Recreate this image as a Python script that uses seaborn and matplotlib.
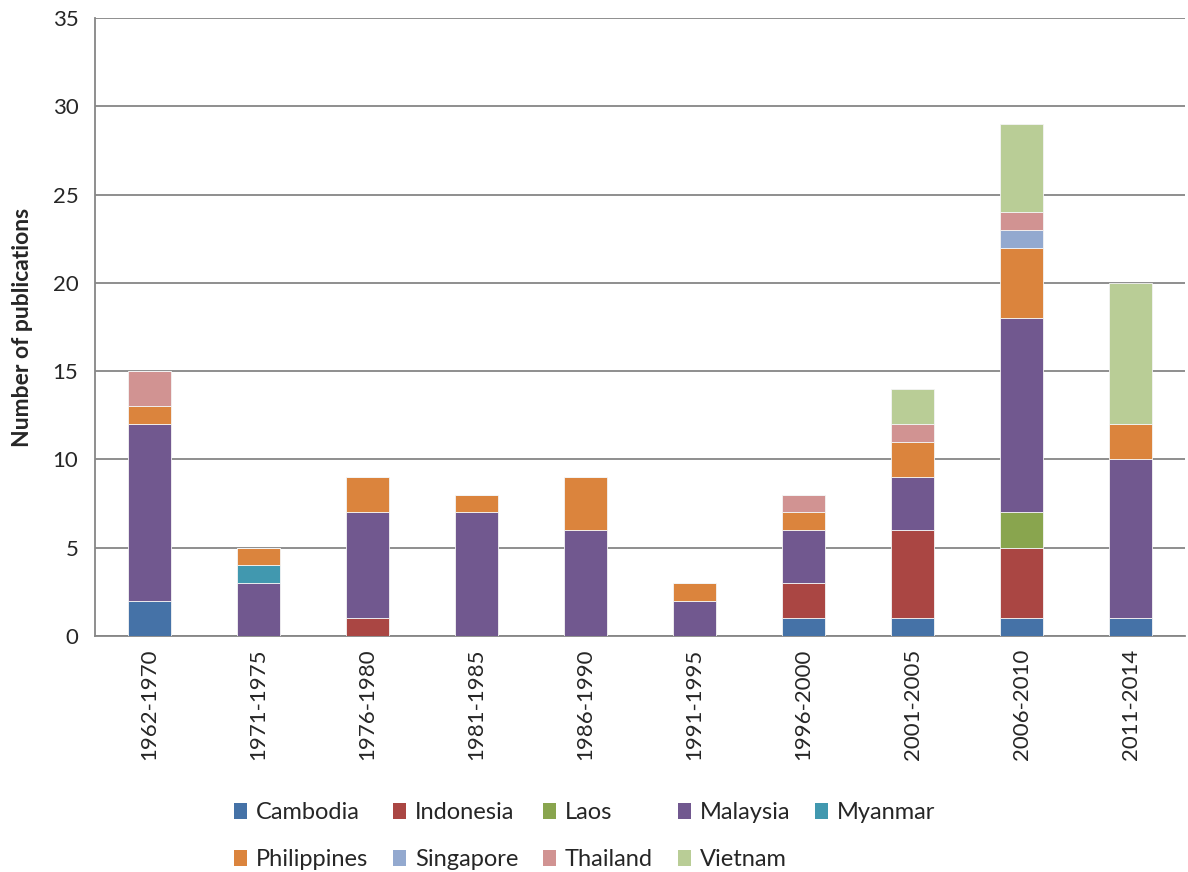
import pandas as pd
import numpy as np
import seaborn as sns
import matplotlib.pyplot as plt
from matplotlib.patches import Patch

periods = ["1962-1970", "1971-1975", "1976-1980", "1981-1985", "1986-1990",
           "1991-1995", "1996-2000", "2001-2005", "2006-2010", "2011-2014"]

countries = ["Cambodia", "Indonesia", "Laos", "Malaysia", "Myanmar",
             "Philippines", "Singapore", "Thailand", "Vietnam"]

cambodia    = [2, 0, 0, 0, 0, 0, 1, 1, 1, 1]
indonesia   = [0, 0, 1, 0, 0, 0, 2, 5, 4, 0]
laos        = [0, 0, 0, 0, 0, 0, 0, 0, 2, 0]
malaysia    = [10, 3, 6, 7, 6, 2, 3, 3, 11, 9]
myanmar     = [0, 1, 0, 0, 0, 0, 0, 0, 0, 0]
philippines = [1, 1, 2, 1, 3, 1, 1, 2, 4, 2]
singapore   = [0, 0, 0, 0, 0, 0, 0, 0, 1, 0]
thailand    = [2, 0, 0, 0, 0, 0, 1, 1, 1, 0]
vietnam     = [0, 0, 0, 0, 0, 0, 0, 2, 5, 8]

colors = ["#4572A7", "#AA4643", "#89A54E", "#71588F", "#4198AF",
          "#DB843D", "#93A9CF", "#D19392", "#B9CD96"]

df = pd.DataFrame({"Cambodia": cambodia, "Indonesia": indonesia, "Laos": laos,
                   "Malaysia": malaysia, "Myanmar": myanmar,
                   "Philippines": philippines, "Singapore": singapore,
                   "Thailand": thailand, "Vietnam": vietnam}, index=periods)

sns.set_style("white")
plt.rcParams['font.family'] = ['Lato', 'DejaVu Sans']

fig = plt.figure(figsize=(11.88, 8.72), dpi=100)
ax = fig.add_axes([0.080, 0.2706, 0.9175, 0.7088])

# stacked bars, one layer per country
bottom = np.zeros(len(periods))
for country, col in zip(countries, colors):
    vals = df[country].values
    sns.barplot(x=periods, y=vals, bottom=bottom, color=col, saturation=1,
                width=0.4, edgecolor="#f4f4f4", linewidth=0.6, ax=ax, zorder=3)
    bottom = bottom + vals

ax.set_ylim(0, 35)
ax.set_xlim(-0.5, len(periods) - 0.5)
ax.set_yticks(range(0, 36, 5))
ax.yaxis.grid(True, color="#868686", linewidth=1.3, zorder=0)
ax.set_axisbelow(True)

for s in ["top", "right"]:
    ax.spines[s].set_visible(False)
for s in ["left", "bottom"]:
    ax.spines[s].set_color("#868686")
    ax.spines[s].set_linewidth(1.3)

ax.set_xticks(range(len(periods)))
ax.set_xticklabels(periods, rotation=90, fontsize=16)
ax.set_xticks(np.arange(-0.5, len(periods), 1), minor=True)
ax.tick_params(axis="x", which="major", length=0, pad=9)
ax.tick_params(axis="x", which="minor", length=6, width=1.3, color="#868686",
               direction="out")
ax.tick_params(axis="y", length=6, width=1.3, color="#868686", direction="out",
               labelsize=16, pad=6)

ax.set_xlabel("")
ax.set_ylabel("Number of publications", fontsize=16.5, fontweight="bold",
              labelpad=14)

# legend, row-major order via column-major fill
order = [0, 5, 1, 6, 2, 7, 3, 8, 4]
handles = [Patch(facecolor=colors[i], edgecolor="none") for i in order]
labels = [countries[i] for i in order]
fig.legend(handles, labels, ncol=5, loc="upper left",
           bbox_to_anchor=(0.197, 0.080), frameon=False, fontsize=17,
           handlelength=0.55, handleheight=0.7, handletextpad=0.38,
           columnspacing=1.05, labelspacing=1.1, borderpad=0,
           borderaxespad=0)

fig.savefig("out.png", dpi=100)
